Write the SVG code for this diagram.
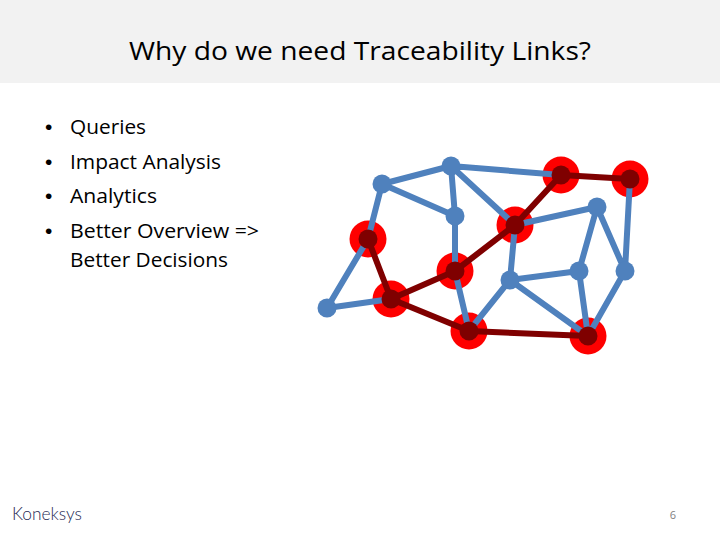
<svg xmlns="http://www.w3.org/2000/svg" width="720" height="540" viewBox="0 0 720 540">
<style>
text{font-family:"Open Sans","Noto Sans","Liberation Sans",sans-serif;fill:#000}
.b{font-size:20px}
.m{font-size:21px;font-family:"Liberation Sans",sans-serif}
.bl{stroke:#4f81bd;stroke-width:6;fill:none;stroke-linecap:round}
.dk{stroke:#7f0000;stroke-width:6;fill:none;stroke-linecap:round}
.hl{fill:#fe0000}
.blue{fill:#4f81bd}
.dot{fill:#7f0000}
</style>
<defs>
<circle id="redn" r="18.5" class="hl"/>
<circle id="bluen" r="9.5" class="blue"/>
</defs>
<rect id="band" x="0" y="0" width="720" height="83" fill="#f2f2f2"/>
<text id="title" x="360" y="60" text-anchor="middle" font-size="26" textLength="462" lengthAdjust="spacingAndGlyphs">Why do we need Traceability Links?</text>
<g id="bullets">
<text class="m" x="45" y="134">•</text><text class="b" x="70" y="134" textLength="76" lengthAdjust="spacingAndGlyphs">Queries</text>
<text class="m" x="45" y="169">•</text><text class="b" x="70" y="169" textLength="151" lengthAdjust="spacingAndGlyphs">Impact Analysis</text>
<text class="m" x="45" y="203">•</text><text class="b" x="70" y="203" textLength="87" lengthAdjust="spacingAndGlyphs">Analytics</text>
<text class="m" x="45" y="238">•</text><text class="b" x="70" y="238" textLength="189" lengthAdjust="spacingAndGlyphs">Better Overview =&gt;</text>
<text class="b" x="70" y="267" textLength="158" lengthAdjust="spacingAndGlyphs">Better Decisions</text>
</g>
<g id="halos">
<use href="#redn" x="368" y="239"/><use href="#redn" x="391" y="299"/><use href="#redn" x="455" y="271"/><use href="#redn" x="469" y="331"/><use href="#redn" x="515" y="225"/><use href="#redn" x="561" y="175"/><use href="#redn" x="630" y="179"/><use href="#redn" x="588" y="336"/>
</g>
<g id="connectors">
<path class="bl" d="M382 184L451 166M451 166L561 175M451 166L455 216M451 166L515 225M382 184L455 216M382 184L368 239M455 216L455 271M368 239L327 308M327 308L391 299M455 271L469 331M515 225L597 207M515 225L510 280M510 280L579 271M510 280L469 331M510 280L588 336M597 207L579 271M597 207L625 271M579 271L588 336M625 271L630 179M625 271L588 336"/>
<path class="dk" d="M561 175L630 179M561 175L515 225M515 225L455 271M455 271L391 299M391 299L368 239M391 299L469 331M469 331L588 336"/>
</g>
<g id="nodes">
<use id="n1" href="#bluen" x="327" y="308"/>
<use id="n2" href="#bluen" x="382" y="184"/>
<use id="n3" href="#bluen" x="451" y="166"/>
<use id="n4" href="#bluen" x="455" y="216"/>
<use id="n5" href="#bluen" x="597" y="207"/>
<use id="n6" href="#bluen" x="510" y="280"/>
<use id="n7" href="#bluen" x="579" y="271"/>
<use id="n8" href="#bluen" x="625" y="271"/>
<circle id="r1" cx="368" cy="239" r="9.5" class="dot"/>
<circle id="r2" cx="391" cy="299" r="9.5" class="dot"/>
<circle id="r3" cx="455" cy="271" r="9.5" class="dot"/>
<circle id="r4" cx="469" cy="331" r="9.5" class="dot"/>
<circle id="r5" cx="515" cy="225" r="9.5" class="dot"/>
<circle id="r6" cx="561" cy="175" r="9.5" class="dot"/>
<circle id="r7" cx="630" cy="179" r="9.5" class="dot"/>
<circle id="r8" cx="588" cy="336" r="9.5" class="dot"/>
</g>
<text id="logo" x="12" y="520" font-size="17" style="font-family:Lato,'Open Sans',sans-serif;font-weight:300;fill:#1f2a55" textLength="70" lengthAdjust="spacingAndGlyphs">Koneksys</text>
<text id="page" x="673" y="519" font-size="11" text-anchor="middle" style="fill:#7f7f7f">6</text>
</svg>
